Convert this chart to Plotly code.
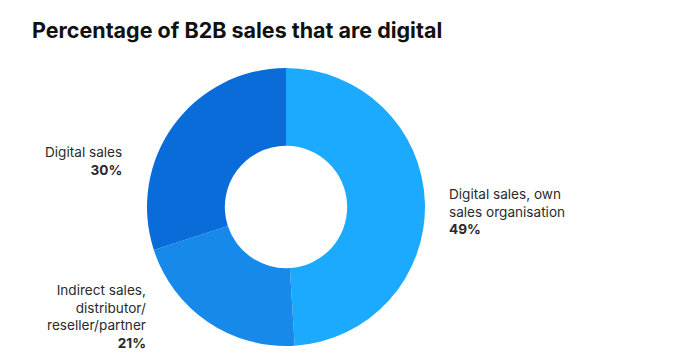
import plotly.graph_objects as go

labels = ["Digital sales, own sales organisation",
          "Indirect sales, distributor/reseller/partner",
          "Digital sales"]
values = [49, 21, 30]
colors = ["#1BAAFE", "#1689EA", "#0A6CD9"]
label_texts = ["Digital sales, own<br>sales organisation",
               "Indirect sales,<br>distributor/<br>reseller/partner",
               "Digital sales"]

W, H = 695, 362
cx, cy, R = 286, 207, 139

fig = go.Figure(go.Pie(
    labels=labels, values=values, sort=False, direction="clockwise",
    rotation=0, hole=0.44, marker=dict(colors=colors, line=dict(width=0)),
    textinfo="none", hoverinfo="label+percent", showlegend=False,
    domain=dict(x=[(cx - R) / W, (cx + R) / W],
                y=[(H - cy - R) / H, (H - cy + R) / H]),
))

# label positions: (x px, y px center, anchor)
pos = [(447, 211, "left"), (148, 316, "right"), (124, 161, "right")]
for (x, y, anc), txt, v in zip(pos, label_texts, values):
    fig.add_annotation(
        x=x / W, y=(H - y) / H, xref="paper", yref="paper",
        xanchor=anc, yanchor="middle", align=anc, showarrow=False,
        text=f"{txt}<br><b>{v}%</b>",
        font=dict(family="Inter, Roboto, sans-serif", size=13.6, color="#2a2a2a"),
    )

fig.update_layout(
    width=W, height=H, margin=dict(l=0, r=0, t=0, b=0),
    paper_bgcolor="white", plot_bgcolor="white",
    title=dict(text="<b>Percentage of B2B sales that are digital</b>",
               x=32 / W, xanchor="left", y=(H - 30) / H, yanchor="middle",
               font=dict(family="Inter, Roboto, sans-serif", size=21.5, color="#111111")),
)

fig.write_html("out.html", config={"displayModeBar": False},
               post_script="document.body.style.margin='0';")
